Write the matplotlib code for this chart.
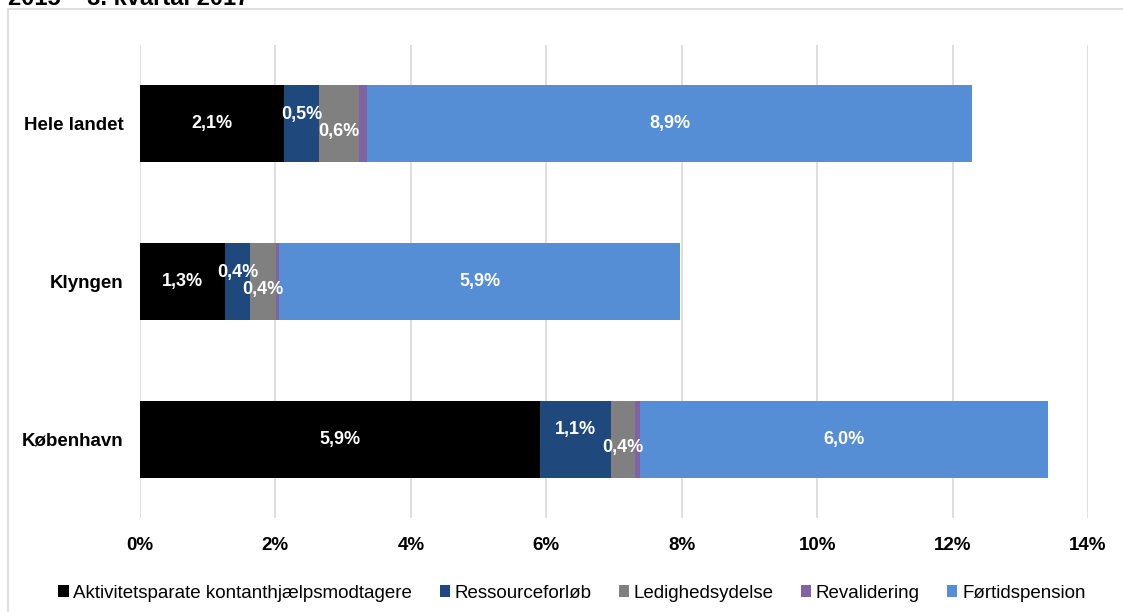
import matplotlib.pyplot as plt
import numpy as np
from matplotlib.patches import Rectangle, Patch

plt.rcParams['font.family'] = ['Liberation Sans', 'DejaVu Sans']

# data (percent of population)
categories = ["København", "Klyngen", "Hele landet"]
series_names = ["Aktivitetsparate kontanthjælpsmodtagere", "Ressourceforløb",
                "Ledighedsydelse", "Revalidering", "Førtidspension"]
aktivitetsparate = [5.90, 1.26, 2.13]
ressourceforloeb = [1.05, 0.37, 0.52]
ledighedsydelse = [0.36, 0.38, 0.58]
revalidering = [0.07, 0.05, 0.12]
foertidspension = [6.03, 5.92, 8.94]
labels_akt = ["5,9%", "1,3%", "2,1%"]
labels_res = ["1,1%", "0,4%", "0,5%"]
labels_led = ["0,4%", "0,4%", "0,6%"]
labels_foe = ["6,0%", "5,9%", "8,9%"]
xticks = [0, 2, 4, 6, 8, 10, 12, 14]

colors = ["#000000", "#1f497d", "#808080", "#8064a2", "#558ed5"]
series = [aktivitetsparate, ressourceforloeb, ledighedsydelse, revalidering, foertidspension]
labels = [labels_akt, labels_res, labels_led, None, labels_foe]
# vertical nudge of the data labels (in axis units) so they don't overlap
nudge = [0, 0.06, -0.05, 0, 0]

fig = plt.figure(figsize=(11.23, 6.12), dpi=100)

# chart frame (runs off the right and bottom edge)
fig.patches.append(Rectangle((8 / 1123, -0.1), 1.2, 1 - 9 / 612 + 0.1,
                             transform=fig.transFigure, fill=False,
                             edgecolor="#d9d9d9", linewidth=1.2))
# title above the frame, cut off by the top edge like in the source image
fig.text(8 / 1123, 1 - 5 / 612, "2015 – 3. kvartal 2017", fontsize=17,
         fontweight="bold", ha="left", va="baseline")

ax = fig.add_axes([140 / 1123, 1 - 518 / 612, (1088 - 140) / 1123, (518 - 45) / 612])

y = np.arange(len(categories))
left = np.zeros(len(categories))
for vals, col, lab, dy in zip(series, colors, labels, nudge):
    vals = np.array(vals)
    ax.barh(y, vals, left=left, height=0.49, color=col, zorder=3)
    if lab is not None:
        for i in range(len(y)):
            ax.text(left[i] + vals[i] / 2, y[i] + dy, lab[i], color="white",
                    fontsize=13, fontweight="bold", ha="center", va="center", zorder=4)
    left += vals

ax.set_xlim(0, 14)
ax.set_ylim(-0.5, 2.5)
ax.set_xticks(xticks)
ax.set_xticklabels([f"{t}%" for t in xticks], fontsize=13.5, fontweight="bold")
ax.set_yticks(y)
ax.set_yticklabels(categories, fontsize=13.5, fontweight="bold")
ax.tick_params(length=0)
ax.tick_params(axis="y", pad=12)
ax.tick_params(axis="x", pad=14)
ax.grid(axis="x", color="#d9d9d9", linewidth=1.2, zorder=0)
for s in ax.spines.values():
    s.set_visible(False)

handles = [Patch(facecolor=c, edgecolor="none") for c in colors]
fig.legend(handles, series_names, loc="center", bbox_to_anchor=(572 / 1123, 1 - 593 / 612),
           ncol=5, frameon=False, fontsize=13.5, handlelength=0.55, handleheight=0.6,
           handletextpad=0.25, columnspacing=1.45)

fig.savefig("out.png", dpi=100)
